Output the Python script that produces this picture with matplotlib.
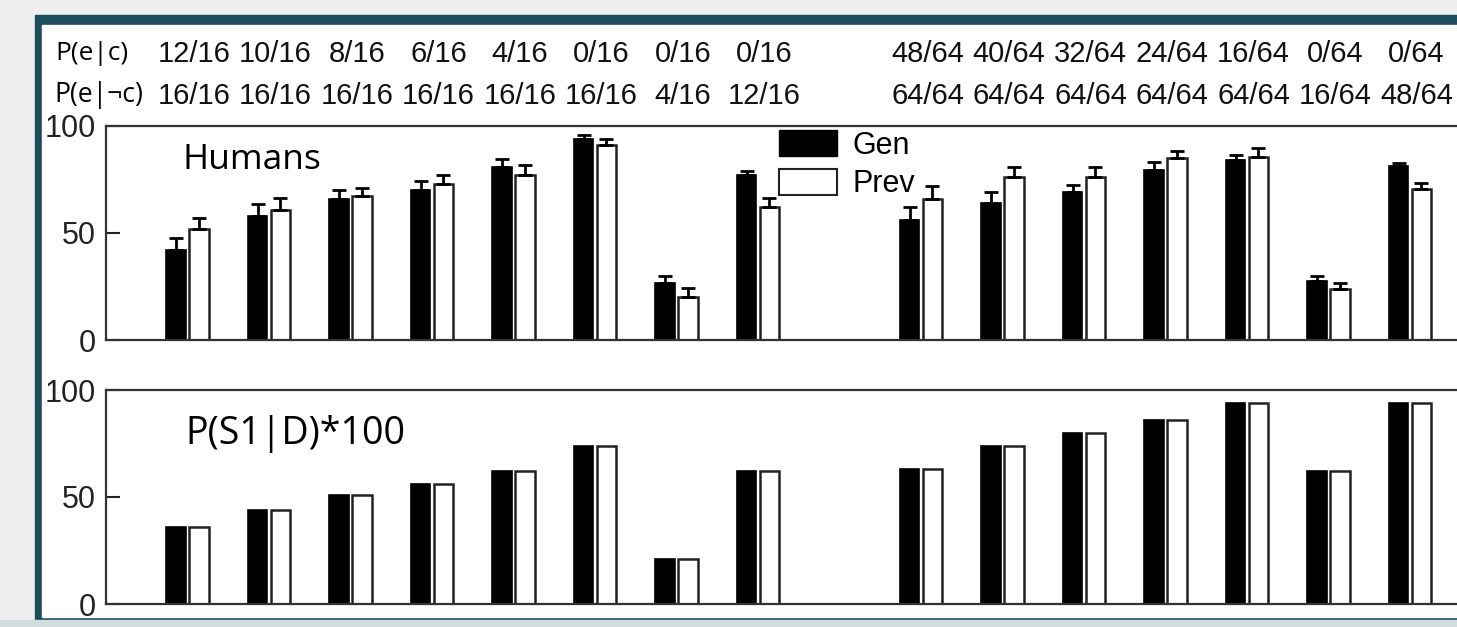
import matplotlib
matplotlib.use("Agg")
import matplotlib.pyplot as plt
from matplotlib.patches import Rectangle, Patch
from matplotlib.transforms import blended_transform_factory
import numpy as np

# ---------------- data ----------------
positions = [1, 2, 3, 4, 5, 6, 7, 8, 10, 11, 12, 13, 14, 15, 16]
p_e_c = ["12/16", "10/16", "8/16", "6/16", "4/16", "0/16", "0/16", "0/16",
         "48/64", "40/64", "32/64", "24/64", "16/64", "0/64", "0/64"]
p_e_notc = ["16/16", "16/16", "16/16", "16/16", "16/16", "16/16", "4/16", "12/16",
            "64/64", "64/64", "64/64", "64/64", "64/64", "16/64", "48/64"]
humans_gen = [42, 58, 66, 70, 81, 94, 26.5, 77, 56, 64, 69, 79.5, 84, 27.5, 81.5]
humans_gen_err = [5.5, 5.5, 4.2, 4.3, 3.5, 2.0, 3.4, 2.0, 6.0, 5.0, 3.6, 3.5, 2.3, 2.6, 1.2]
humans_prev = [52, 60.7, 67.4, 73, 77, 91, 20.2, 62, 66, 76, 76.3, 85.2, 85.7, 23.8, 70.4]
humans_prev_err = [5.0, 5.5, 3.8, 4.3, 5.0, 3.0, 4.0, 4.5, 6.0, 4.8, 4.4, 3.1, 4.2, 3.0, 3.0]
model_gen = [36, 44, 51, 56, 62, 74, 21, 62, 63, 74, 80, 86, 94, 62, 94]
model_prev = [36, 44, 51, 56, 62, 74, 21, 62, 63, 74, 80, 86, 94, 62, 94]
series_names = ["Gen", "Prev"]
yticks = [0, 50, 100]

# ---------------- figure ----------------
W, H = 1457, 627
plt.rcParams['font.family'] = ['Liberation Sans', 'DejaVu Sans']
fig = plt.figure(figsize=(W / 100, H / 100), dpi=100)
fig.patch.set_facecolor('#eef0ef')

def fx(px):
    return px / W

def fy(py):
    return 1 - py / H

teal = '#1e4d5b'
fig.add_artist(Rectangle((fx(35), fy(619)), fx(W - 35), (619 - 15) / H,
                         transform=fig.transFigure, color=teal, zorder=-10))
fig.add_artist(Rectangle((fx(42), fy(617)), fx(W - 42), (617 - 25) / H,
                         transform=fig.transFigure, color='white', zorder=-9))
fig.add_artist(Rectangle((0, 0), 1, 7 / H, transform=fig.transFigure,
                         color='#d3dcdd', zorder=-8))

left = fx(106)
width = 17 * 81.5 / W
ax_top = fig.add_axes([left, fy(340), width, 214 / H])
ax_bot = fig.add_axes([left, fy(604), width, 214 / H])

x = np.array(positions, dtype=float)
off, bw = 0.14, 0.24

def style(ax):
    ax.set_xlim(0, 17)
    ax.set_ylim(0, 100)
    ax.set_yticks(yticks)
    ax.set_xticks([])
    ax.tick_params(axis='y', direction='in', length=10, width=1.5,
                   labelsize=22, pad=7, colors='#222')
    for s in ['left', 'top', 'bottom']:
        ax.spines[s].set_linewidth(1.6)
        ax.spines[s].set_color('#333')
    ax.spines['right'].set_visible(False)

# top: humans
ax_top.bar(x - off, humans_gen, width=bw, color='black', edgecolor='black', linewidth=1.2, zorder=2)
ax_top.bar(x + off, humans_prev, width=bw, color='white', edgecolor='#222', linewidth=1.8, zorder=2)
zeros = np.zeros(len(x))
ax_top.errorbar(x - off, humans_gen, yerr=[zeros, humans_gen_err], fmt='none',
                ecolor='black', elinewidth=2, capsize=5, capthick=2, zorder=3)
ax_top.errorbar(x + off, humans_prev, yerr=[zeros, humans_prev_err], fmt='none',
                ecolor='black', elinewidth=2, capsize=5, capthick=2, zorder=3)
style(ax_top)

# bottom: model
ax_bot.bar(x - off, model_gen, width=bw, color='black', edgecolor='black', linewidth=1.2, zorder=2)
ax_bot.bar(x + off, model_prev, width=bw, color='white', edgecolor='#222', linewidth=1.8, zorder=2)
style(ax_bot)

# legend
leg_fs = 22
fs_px = leg_fs * 100 / 72
handles = [Patch(facecolor='black', edgecolor='black'),
           Patch(facecolor='white', edgecolor='#222', linewidth=1.5)]
ax_top.legend(handles, series_names, loc='upper left',
              bbox_to_anchor=(fx(779), fy(130)), bbox_transform=fig.transFigure,
              frameon=False, borderpad=0, borderaxespad=0,
              handlelength=58 / fs_px, handleheight=29 / fs_px,
              handletextpad=16 / fs_px, labelspacing=8 / fs_px, fontsize=leg_fs)

# condition labels
tr = blended_transform_factory(ax_top.transData, fig.transFigure)
for xi, a, b in zip(positions, p_e_c, p_e_notc):
    ax_top.text(xi + 0.08, fy(54), a, transform=tr, ha='center', va='center',
                fontsize=21, color='#111')
    ax_top.text(xi + 0.08, fy(96), b, transform=tr, ha='center', va='center',
                fontsize=21, color='#111')

cal = ['Open Sans', 'DejaVu Sans']
t1 = fig.text(fx(55), fy(53), "P(e|c)", ha='left', va='center', family=cal, fontsize=16)
t2 = fig.text(fx(54), fy(95), "P(e|¬c)", ha='left', va='center', family=cal, fontsize=16)
t3 = fig.text(fx(182), fy(169), "Humans", ha='left', va='baseline', family=cal, fontsize=24)
t4 = fig.text(fx(185), fy(444), "P(S1|D)*100", ha='left', va='baseline', family=cal, fontsize=22)

fig.canvas.draw()
r = fig.canvas.get_renderer()
for t, target in [(t1, 73), (t2, 89), (t3, 139), (t4, 220)]:
    bb = t.get_window_extent(r)
    t.set_fontsize(t.get_fontsize() * target / bb.width)

fig.savefig("out.png", dpi=100, facecolor=fig.get_facecolor())
